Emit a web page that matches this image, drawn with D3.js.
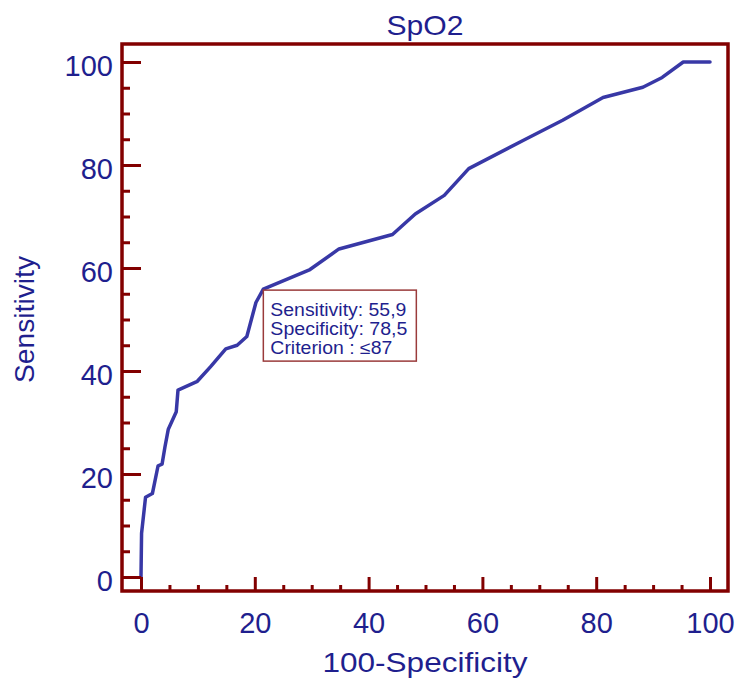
<!DOCTYPE html>
<html>
<head>
<meta charset="utf-8">
<script src="https://cdn.jsdelivr.net/npm/d3@7/dist/d3.min.js"></script>
<style>
  html, body { margin: 0; padding: 0; background: #ffffff; }
  svg { display: block; }
  text { font-family: "Liberation Sans", Arial, Helvetica, sans-serif; }
</style>
</head>
<body>
<svg id="chart" width="739" height="680"></svg>
<script>
// ROC curve for SpO2: 100-Specificity (x) against Sensitivity (y)
const falsePositiveRate = [0, 0.1, 0.8, 2.0, 3.0, 3.7, 4.2, 4.8, 6.2, 6.5, 9.9, 12.2, 14.9, 16.9, 18.6, 20.2, 21.5,
  29.7, 34.8, 44.2, 48.2, 53.3, 57.6, 67.4, 74.1, 81.2, 88.2, 91.6, 95.3, 100];
const sensitivity = [0, 8.5, 15.5, 16.2, 21.6, 21.9, 25.2, 28.7, 32.1, 36.3, 38.0, 40.8, 44.3, 45.0, 46.7, 53.3, 55.9,
  59.7, 63.7, 66.5, 70.5, 74.1, 79.3, 84.9, 88.7, 93.1, 95.1, 97.0, 100, 100];

const majorTicks = [0, 20, 40, 60, 80, 100];
const minorTicks = [5, 10, 15, 25, 30, 35, 45, 50, 55, 65, 70, 75, 85, 90, 95];

// Optimal cut-off point and its label
const cutoffSpecificity = 78.5;
const cutoffSensitivity = 55.9;
const cutoffLines = ["Sensitivity: 55,9", "Specificity: 78,5", "Criterion : \u226487"];

const titleText = "SpO2";
const xTitle = "100-Specificity";
const yTitle = "Sensitivity";

const frameColor = "#820000";
const textColor = "#1f1f8e";
const curveColor = "#3838a6";

const svg = d3.select("#chart");

const frame = { left: 122, right: 728, top: 44, bottom: 591 };
const x = d3.scaleLinear().domain([0, 100]).range([141, 710]);
const y = d3.scaleLinear().domain([0, 100]).range([577, 62]);

// ROC curve
const points = falsePositiveRate.map((v, i) => [v, sensitivity[i]]);
svg.append("path")
  .datum(points)
  .attr("fill", "none")
  .attr("stroke", curveColor)
  .attr("stroke-width", 3.5)
  .attr("stroke-linejoin", "round")
  .attr("stroke-linecap", "round")
  .attr("d", d3.line().x(d => x(d[0])).y(d => y(d[1])));

// Axes with inward ticks
function styleAxis(g) {
  g.select(".domain").remove();
  g.selectAll(".tick line").attr("stroke", frameColor).attr("stroke-width", 3);
  g.selectAll(".tick text")
    .attr("fill", textColor)
    .style("font-size", "29px")
    .style("font-family", "'Liberation Sans', Arial, sans-serif");
}

const xMajor = svg.append("g")
  .attr("transform", `translate(0,${frame.bottom})`)
  .call(d3.axisBottom(x).tickValues(majorTicks).tickSize(-(frame.bottom - y(0))).tickPadding(21).tickFormat(d3.format("d")));
styleAxis(xMajor);

const xMinor = svg.append("g")
  .attr("transform", `translate(0,${frame.bottom})`)
  .call(d3.axisBottom(x).tickValues(minorTicks).tickSize(-6).tickFormat(""));
styleAxis(xMinor);

const yMajor = svg.append("g")
  .attr("transform", `translate(${frame.left},0)`)
  .call(d3.axisLeft(y).tickValues(majorTicks).tickSize(-(x(0) - frame.left)).tickPadding(9).tickFormat(d3.format("d")));
styleAxis(yMajor);
yMajor.selectAll(".tick text").attr("dy", "0.48em");

const yMinor = svg.append("g")
  .attr("transform", `translate(${frame.left},0)`)
  .call(d3.axisLeft(y).tickValues(minorTicks).tickSize(-8).tickFormat(""));
styleAxis(yMinor);

// Plot frame
svg.append("rect")
  .attr("x", frame.left)
  .attr("y", frame.top)
  .attr("width", frame.right - frame.left)
  .attr("height", frame.bottom - frame.top)
  .attr("fill", "none")
  .attr("stroke", frameColor)
  .attr("stroke-width", 3.5);

// Cut-off annotation box anchored at the criterion point
const bx = x(100 - cutoffSpecificity);
const by = y(cutoffSensitivity);
const lineWidths = [136, 137, 122];
const box = svg.append("g").attr("transform", `translate(${bx},${by})`);
box.append("rect")
  .attr("x", 0).attr("y", 1)
  .attr("width", 153).attr("height", 71)
  .attr("fill", "#ffffff")
  .attr("stroke", "#9a3b3b")
  .attr("stroke-width", 1.5);
box.selectAll("text.cut")
  .data(cutoffLines)
  .join("text")
  .attr("class", "cut")
  .attr("x", 7)
  .attr("y", (d, i) => 27 + i * 18.7)
  .attr("fill", textColor)
  .attr("textLength", (d, i) => lineWidths[i])
  .attr("lengthAdjust", "spacingAndGlyphs")
  .style("font-size", "18px")
  .text(d => d);

// Titles
svg.append("text")
  .attr("x", (frame.left + frame.right) / 2)
  .attr("y", 35)
  .attr("text-anchor", "middle")
  .attr("fill", textColor)
  .attr("textLength", 77)
  .attr("lengthAdjust", "spacingAndGlyphs")
  .style("font-size", "28px")
  .text(titleText);

svg.append("text")
  .attr("x", (frame.left + frame.right) / 2)
  .attr("y", 672)
  .attr("text-anchor", "middle")
  .attr("fill", textColor)
  .attr("textLength", 205)
  .attr("lengthAdjust", "spacingAndGlyphs")
  .style("font-size", "28px")
  .text(xTitle);

svg.append("text")
  .attr("transform", `translate(34,${(frame.top + frame.bottom) / 2 + 2}) rotate(-90)`)
  .attr("text-anchor", "middle")
  .attr("fill", textColor)
  .attr("textLength", 127)
  .attr("lengthAdjust", "spacingAndGlyphs")
  .style("font-size", "28px")
  .text(yTitle);
</script>
</body>
</html>
